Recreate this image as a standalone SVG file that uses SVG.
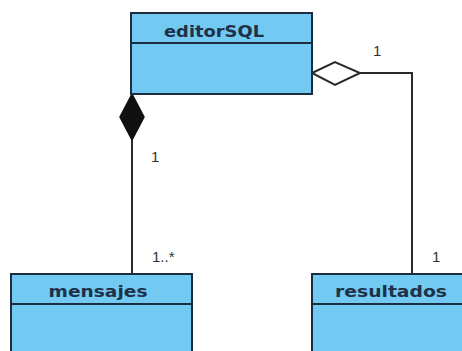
<svg xmlns="http://www.w3.org/2000/svg" width="462" height="351" viewBox="0 0 462 351">
  <style>
    .box { fill: #72c9f2; stroke: #1d2c3f; stroke-width: 2; }
    .div { stroke: #1d2c3f; stroke-width: 2; }
    .name { font-family: "DejaVu Sans", Verdana, sans-serif; font-weight: bold; font-size: 16px; fill: #1e3148; text-anchor: middle; }
    .edge { fill: none; stroke: #2a2a2a; stroke-width: 2; }
    .mult { font-family: "Liberation Sans", Arial, sans-serif; font-size: 15px; fill: #333; }
  </style>
  <rect width="462" height="351" fill="#ffffff"/>

  <g id="connectors">
    <!-- composition: editorSQL to mensajes -->
    <line class="edge" x1="132" y1="140" x2="132" y2="274"/>
    <polygon points="132,94 120,117 132,140 144,117" fill="#111" stroke="#111" stroke-width="1.5"/>
    <text class="mult" x="151" y="162">1</text>
    <text class="mult" x="152" y="262">1..*</text>
    <!-- aggregation: editorSQL to resultados -->
    <polyline class="edge" points="360,73 412,73 412,274"/>
    <polygon points="312,73 335,62 360,73 335,85" fill="#fff" stroke="#2a2a2a" stroke-width="2"/>
    <text class="mult" x="373" y="56">1</text>
    <text class="mult" x="432" y="262">1</text>
  </g>

  <g id="editorSQL">
    <rect class="box" x="131" y="13" width="181" height="81"/>
    <line class="div" x1="131" y1="43" x2="312" y2="43"/>
    <text class="name" x="214" y="37" textLength="100" lengthAdjust="spacingAndGlyphs">editorSQL</text>
  </g>

  <g id="mensajes">
    <rect class="box" x="11" y="274" width="181" height="90"/>
    <line class="div" x1="11" y1="304" x2="192" y2="304"/>
    <text class="name" x="98" y="297" textLength="99" lengthAdjust="spacingAndGlyphs">mensajes</text>
  </g>

  <g id="resultados">
    <rect class="box" x="312" y="274" width="160" height="90"/>
    <line class="div" x1="312" y1="304" x2="472" y2="304"/>
    <text class="name" x="391" y="297" textLength="112" lengthAdjust="spacingAndGlyphs">resultados</text>
  </g>
</svg>
